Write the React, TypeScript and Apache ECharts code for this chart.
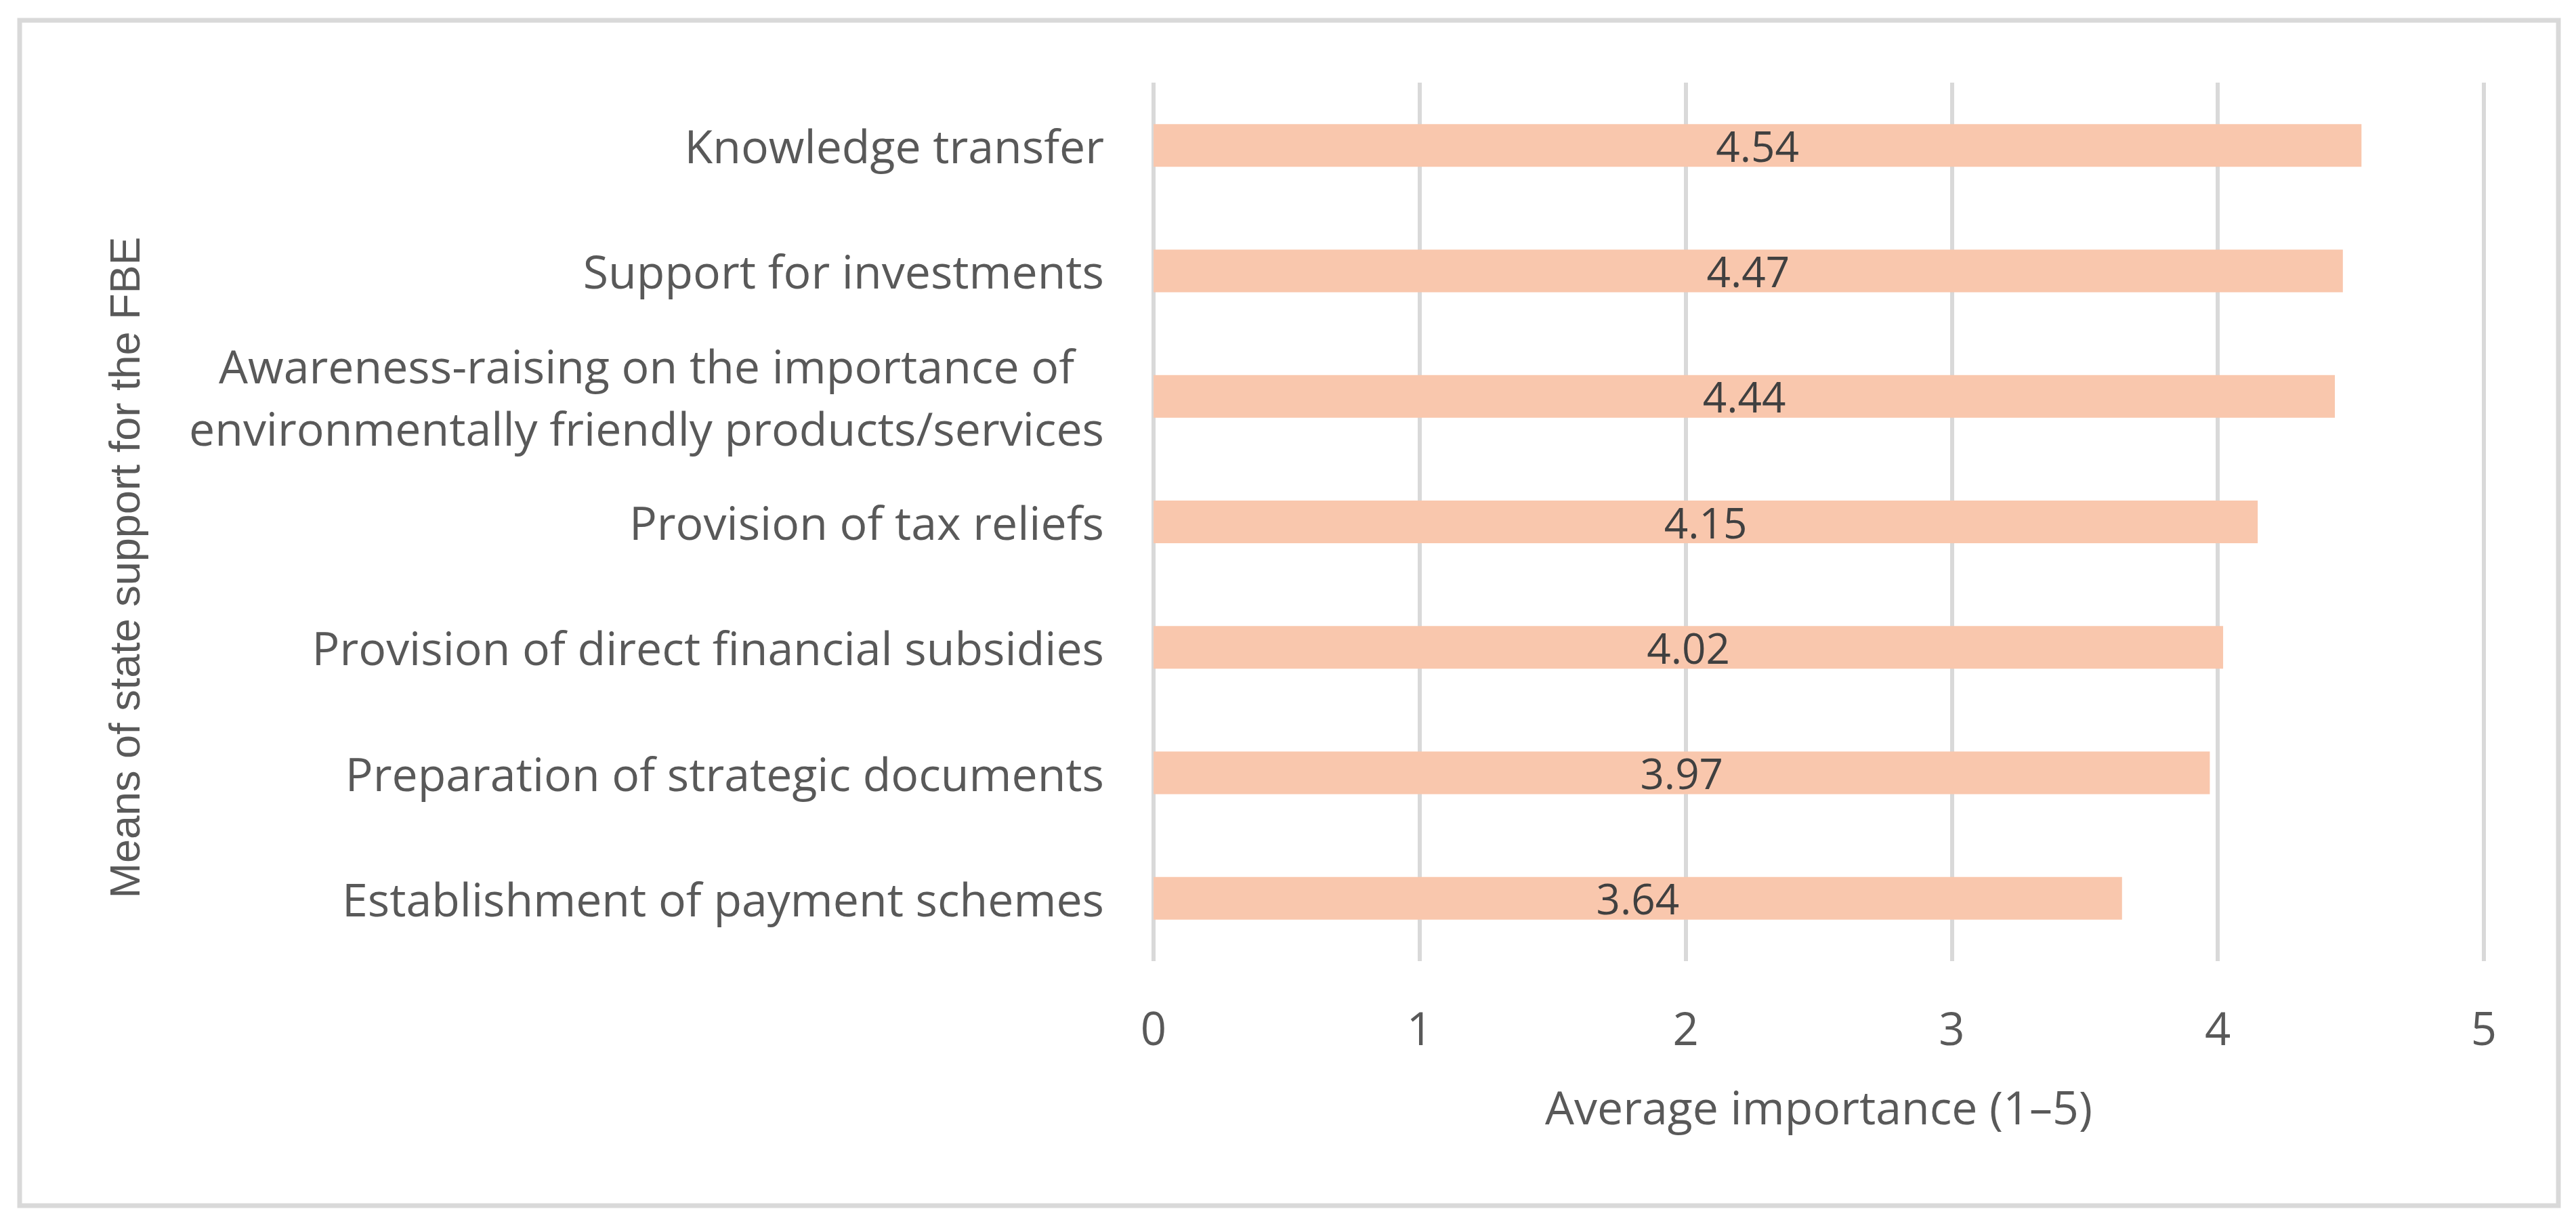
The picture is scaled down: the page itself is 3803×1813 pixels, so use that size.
import React, { useEffect, useRef } from "react";
import * as echarts from "echarts";

const categories = [
  "Knowledge transfer",
  "Support for investments",
  "Awareness-raising on the importance of\nenvironmentally friendly products/services",
  "Provision of tax reliefs",
  "Provision of direct financial subsidies",
  "Preparation of strategic documents",
  "Establishment of payment schemes",
];
const values = [4.54, 4.47, 4.44, 4.15, 4.02, 3.97, 3.64];
const xMin = 0;
const xMax = 5;
const xInterval = 1;
const xAxisTitle = "Average importance (1\u20135)";
const yAxisTitle = "Means of state support for the FBE";

const FONT = "'Open Sans', 'Liberation Sans', sans-serif";
const TEXT = "#595959";

export default function App() {
  const ref = useRef<HTMLDivElement>(null);
  useEffect(() => {
    if (!ref.current) return;
    const chart = echarts.init(ref.current, null, { renderer: "svg" });
    chart.setOption({
      animation: false,
      backgroundColor: "#ffffff",
      grid: { left: 1703, right: 136, top: 122, bottom: 394, containLabel: false },
      xAxis: {
        type: "value",
        min: xMin,
        max: xMax,
        interval: xInterval,
        axisLine: { show: false },
        axisTick: { show: false },
        splitLine: { show: true, showMinLine: true, showMaxLine: true, lineStyle: { color: "#d9d9d9", width: 6 } },
        axisLabel: { fontSize: 67, fontFamily: FONT, color: TEXT, margin: 64, lineHeight: 67 },
        name: xAxisTitle,
        nameLocation: "middle",
        nameGap: 180,
        nameTextStyle: { fontSize: 68, fontFamily: FONT, color: TEXT, lineHeight: 68 },
      },
      yAxis: {
        type: "category",
        data: categories,
        inverse: true,
        axisLine: { show: false },
        axisTick: { show: false },
        splitLine: { show: false },
        axisLabel: {
          margin: 73,
          formatter: (v: string) => v.split("\n").map((l) => `{c|${l}}`).join("\n"),
          rich: { c: { align: "center", fontSize: 68, fontFamily: FONT, color: TEXT, lineHeight: 92 } },
        },
      },
      series: [
        {
          type: "bar",
          data: values,
          barWidth: 63,
          itemStyle: { color: "#F9C7AD" },
          label: {
            show: true,
            position: "inside",
            fontSize: 62,
            fontFamily: FONT,
            color: "#404040",
            formatter: (p: any) => p.value.toFixed(2),
          },
        },
      ],
      graphic: [
        {
          type: "rect",
          shape: { x: 29, y: 30, width: 3748, height: 1750 },
          style: { fill: "none", stroke: "#d9d9d9", lineWidth: 7 },
          silent: true,
        },
        {
          type: "text",
          x: 184,
          y: 838,
          rotation: Math.PI / 2,
          style: {
            text: yAxisTitle,
            fontSize: 63,
            fontFamily: "'Liberation Sans', sans-serif",
            fill: TEXT,
            align: "center",
            verticalAlign: "middle",
          },
        },
      ],
    });
    return () => chart.dispose();
  }, []);
  return (
    <div
      ref={ref}
      style={{ position: "fixed", left: 0, top: 0, width: 3803, height: 1813, background: "#fff" }}
    />
  );
}
